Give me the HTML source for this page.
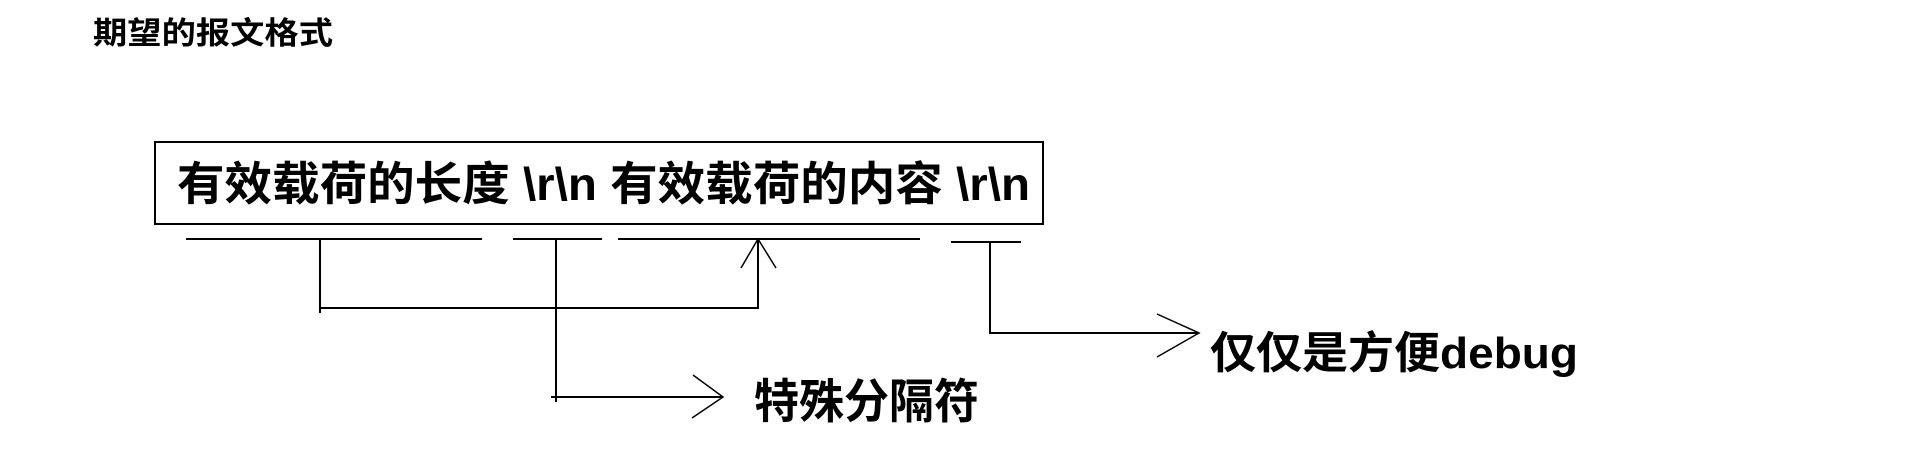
<!DOCTYPE html>
<html><head><meta charset="utf-8"><style>
html,body{margin:0;padding:0;background:#fff;width:1925px;height:449px;overflow:hidden}
svg{display:block}
text{font-family:"Liberation Sans","Noto Sans CJK SC",sans-serif;font-weight:bold;fill:#000}
</style></head><body>
<svg width="1925" height="449" viewBox="0 0 1925 449">
<text x="93" y="44" font-size="31" textLength="240" lengthAdjust="spacingAndGlyphs" fill="#222">期望的报文格式</text>
<rect x="155" y="142" width="888" height="82" fill="none" stroke="#000" stroke-width="2"/>
<text x="177" y="200" font-size="46" textLength="853" lengthAdjust="spacingAndGlyphs" xml:space="preserve">有效载荷的长度 \r\n 有效载荷的内容 \r\n</text>
<g stroke="#000" stroke-width="2" fill="none">
<line x1="186" y1="239" x2="482" y2="239"/>
<line x1="513" y1="239" x2="602" y2="239"/>
<line x1="618" y1="239" x2="920" y2="239"/>
<line x1="951" y1="242" x2="1021" y2="242"/>
<polyline points="320,239 320,313"/>
<polyline points="320,308 758,308 758,239"/>
<polyline points="741,268 758,239 776,268" stroke-width="1.5"/>
<polyline points="556,239 556,402"/>
<polyline points="551,397 723,397"/>
<polyline points="693,375 723,397 692,418" stroke-width="1.5"/>
<polyline points="990,242 990,333 1199,333"/>
<polyline points="1157,314 1199,333 1157,357" stroke-width="1.5"/>
</g>
<text x="754" y="418" font-size="47" textLength="225" lengthAdjust="spacingAndGlyphs">特殊分隔符</text>
<text x="1210" y="368" font-size="44" textLength="368" lengthAdjust="spacingAndGlyphs">仅仅是方便debug</text>
</svg>
</body></html>
